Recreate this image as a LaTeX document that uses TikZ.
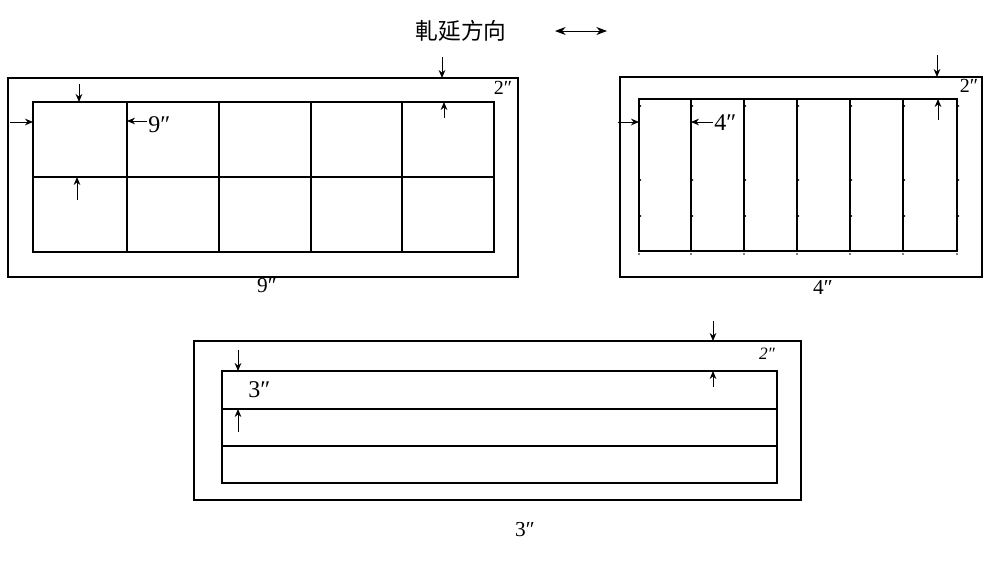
\documentclass[tikz,border=0pt]{standalone}
\usepackage{fontspec}
\setmainfont{Liberation Serif}
\newfontfamily\cjk{Noto Sans CJK TC}
\usetikzlibrary{arrows.meta}
\begin{document}
\begin{tikzpicture}[x=0.75pt,y=-0.75pt,
  frame/.style={line width=1pt},
  gridline/.style={line width=0.8pt},
  dimarrow/.style={line width=0.7pt,-{Stealth[length=6pt,width=5pt]}},
  biglbl/.style={font=\fontsize{18}{18}\selectfont, inner sep=0pt},
  botlbl/.style={font=\fontsize{16}{16}\selectfont, inner sep=0pt},
  smalllbl/.style={font=\fontsize{15}{15}\selectfont, inner sep=0pt},
  tinylbl/.style={font=\itshape\fontsize{13}{13}\selectfont, inner sep=0pt},
  dot/.style={fill=black, inner sep=0pt, minimum size=1.3pt, circle}
]
\useasboundingbox (0,0) rectangle (1000,561);

% title
\node[font=\cjk\fontsize{17}{17}\selectfont, inner sep=0pt] (title) at (461,31) {軋延方向};
\coordinate (dl) at (555,31);
\coordinate (dr) at (607,31);
\draw[line width=0.7pt,{Stealth[length=8pt,width=6pt]}-{Stealth[length=8pt,width=6pt]}] (dl) -- (dr);

% ---------- panel 1 ----------
\draw[frame] (8,78) rectangle (518,277);
\draw[gridline] (33,102) rectangle (494,252);
\draw[gridline] (33,177) -- (494,177);
\foreach \x in {127,219,311,402} \draw[gridline] (\x,102) -- (\x,252);
\coordinate (p1a) at (442,57); \coordinate (p1b) at (442,78);
\draw[dimarrow] (p1a) -- (p1b);
\coordinate (p1c) at (444,118); \coordinate (p1d) at (444,102);
\draw[dimarrow] (p1c) -- (p1d);
\node[smalllbl] (p1two) at (503,88) {2″};
\coordinate (p1e) at (79,84); \coordinate (p1f) at (79,102);
\draw[dimarrow] (p1e) -- (p1f);
\coordinate (p1g) at (77,200); \coordinate (p1h) at (77,177);
\draw[dimarrow] (p1g) -- (p1h);
\coordinate (p1i) at (10,122); \coordinate (p1j) at (33,122);
\draw[dimarrow] (p1i) -- (p1j);
\coordinate (p1k) at (147,121); \coordinate (p1l) at (127,121);
\draw[dimarrow] (p1k) -- (p1l);
\node[biglbl, anchor=west] (p1nine) at (148,125) {9″};
\node[botlbl] (p1bot) at (267,286) {9″};

% ---------- panel 2 ----------
\draw[frame] (620,77) rectangle (982,277);
\draw[gridline] (639,99) rectangle (957,251);
\foreach \x in {691,744,797,850,903} \draw[gridline] (\x,99) -- (\x,251);
\foreach \x in {639,691,744,797,850,903,957} {
  \node[dot] at (\x,254) {};
  \node[dot] at (\x+1.5,106) {};
  \node[dot] at (\x+1.5,180) {};
  \node[dot] at (\x+1.5,216) {};
}
\coordinate (p2a) at (937,55); \coordinate (p2b) at (937,77);
\draw[dimarrow] (p2a) -- (p2b);
\coordinate (p2c) at (938,120); \coordinate (p2d) at (938,99);
\draw[dimarrow] (p2c) -- (p2d);
\node[smalllbl] (p2two) at (969,86) {2″};
\coordinate (p2e) at (618,122); \coordinate (p2f) at (639,122);
\draw[dimarrow] (p2e) -- (p2f);
\coordinate (p2g) at (713,122); \coordinate (p2h) at (691,122);
\draw[dimarrow] (p2g) -- (p2h);
\node[biglbl, anchor=west] (p2four) at (714,123) {4″};
\node[botlbl] (p2bot) at (823,287) {4″};

% ---------- panel 3 ----------
\draw[frame] (194,341) rectangle (801,500);
\draw[gridline] (222,371) rectangle (777,483);
\draw[gridline] (222,409) -- (777,409);
\draw[gridline] (222,446) -- (777,446);
\coordinate (p3a) at (238,350); \coordinate (p3b) at (238,371);
\draw[dimarrow] (p3a) -- (p3b);
\coordinate (p3c) at (238,432); \coordinate (p3d) at (238,409);
\draw[dimarrow] (p3c) -- (p3d);
\node[biglbl, anchor=west] (p3three) at (248,390) {3″};
\coordinate (p3e) at (713,321); \coordinate (p3f) at (713,341);
\draw[dimarrow] (p3e) -- (p3f);
\coordinate (p3g) at (713,387); \coordinate (p3h) at (713,371);
\draw[dimarrow] (p3g) -- (p3h);
\node[tinylbl] (p3two) at (767,354) {2″};
\node[botlbl] (p3bot) at (525,530) {3″};
\end{tikzpicture}
\end{document}
